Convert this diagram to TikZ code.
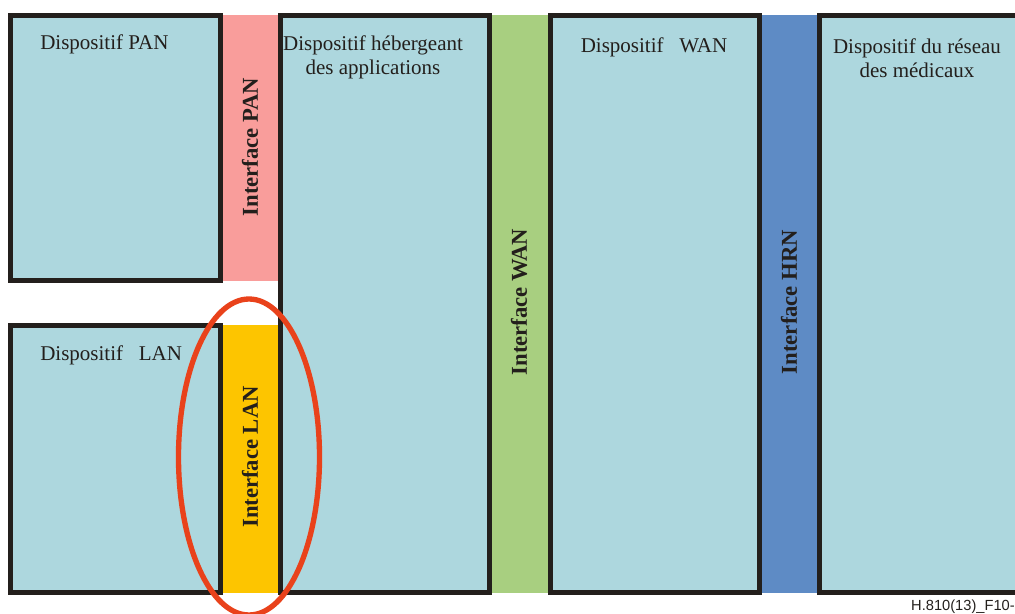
\documentclass[tikz,border=0pt]{standalone}
\usepackage{fontspec}
\setmainfont{Liberation Serif}
\newfontfamily\footfont{Liberation Sans}
\definecolor{devfill}{HTML}{ADD7DE}
\definecolor{edge}{HTML}{231F1C}
\definecolor{panfill}{HTML}{F99D9B}
\definecolor{lanfill}{HTML}{FDC500}
\definecolor{wanfill}{HTML}{A8CF80}
\definecolor{hrnfill}{HTML}{5E8BC5}
\definecolor{ring}{HTML}{E9421B}
\begin{document}
\begin{tikzpicture}[x=0.75pt,y=-0.75pt,
  devbox/.style={draw=edge,line width=3.75pt,fill=devfill},
  devlabel/.style={inner sep=0pt,text=edge,font=\fontsize{15.75}{18}\selectfont,align=center},
  iflabel/.style={inner sep=0pt,text=edge,rotate=90,font=\fontsize{17}{20}\selectfont\bfseries},
  ringstyle/.style={draw=ring,line width=4pt}]
\useasboundingbox (0,0) rectangle (1015,614);
\clip (0,0) rectangle (1015,614);
% interface strips
\fill[panfill] (222,15) rectangle (278,280.5);
\fill[lanfill] (222,325) rectangle (278,592.5);
\fill[wanfill] (492,15) rectangle (548,592.5);
\fill[hrnfill] (762,15) rectangle (817,592.5);
% device boxes
\draw[devbox] (10.5,15) rectangle (220,280.5);
\draw[devbox] (10.5,325) rectangle (220,592.5);
\draw[devbox] (280.5,15) rectangle (489.5,592.5);
\draw[devbox] (550.5,15) rectangle (759.5,592.5);
\draw[devbox] (819.5,15) rectangle (1040,592.5);
% device labels
\node[devlabel,anchor=west] (pan) at (40,44) {Dispositif PAN};
\node[devlabel,anchor=west] (lan) at (40,355) {Dispositif\ \ \ LAN};
\node[devlabel] (app) at (373,57) {Dispositif hébergeant\\des applications};
\node[devlabel] (wan) at (654,47) {Dispositif\ \ \ WAN};
\node[devlabel] (hrn) at (917,58) {Dispositif du réseau\\des médicaux};
% interface labels
\node[iflabel] (ifpan) at (250,147) {Interface PAN};
\node[iflabel] (iflan) at (250,457) {Interface LAN};
\node[iflabel] (ifwan) at (519,302) {Interface WAN};
\node[iflabel] (ifhrn) at (789,302) {Interface HRN};
% highlight around the LAN interface
\draw[ringstyle] (249,457) ellipse [x radius=70.5, y radius=158];
% figure reference
\node[inner sep=0pt,anchor=base east,text=edge,font=\footfont\fontsize{11}{13}\selectfont] (ref) at (1015,610.5) {H.810(13)\_F10-};
\end{tikzpicture}
\end{document}
